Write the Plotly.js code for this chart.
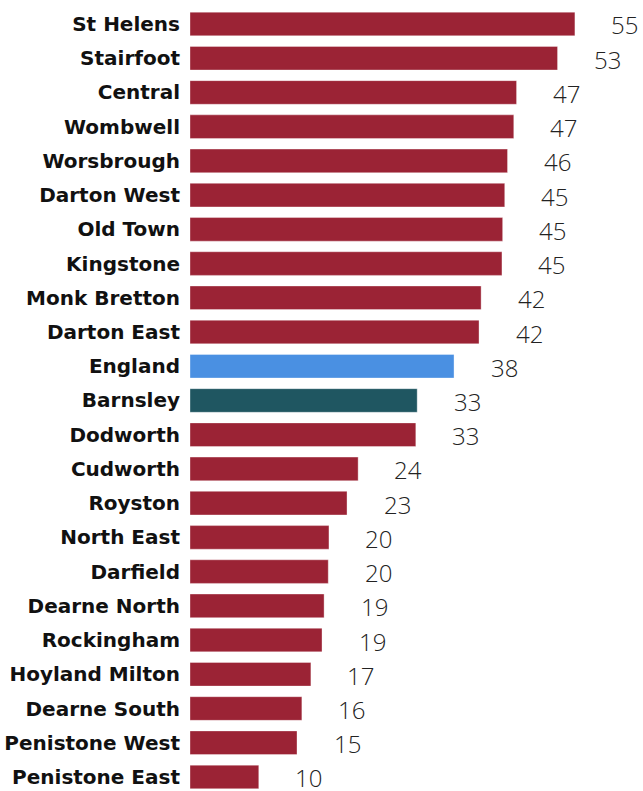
<!DOCTYPE html>
<html>
<head>
<meta charset="utf-8">
<script src="https://cdn.plot.ly/plotly-3.0.1.min.js"></script>
<style>html,body{margin:0;padding:0;background:#fff;}#chart{width:643px;height:791px;}</style>
</head>
<body>
<div id="chart"></div>
<script>
const wards = ["St Helens","Stairfoot","Central","Wombwell","Worsbrough","Darton West","Old Town","Kingstone","Monk Bretton","Darton East","England","Barnsley","Dodworth","Cudworth","Royston","North East","Darfield","Dearne North","Rockingham","Hoyland Milton","Dearne South","Penistone West","Penistone East"];
const values = [55.4,52.9,47.0,46.6,45.7,45.3,45.0,44.9,41.9,41.6,38.0,32.7,32.5,24.2,22.6,20.0,19.9,19.3,19.0,17.4,16.1,15.4,9.9];
const valueLabels = ["55","53","47","47","46","45","45","45","42","42","38","33","33","24","23","20","20","19","19","17","16","15","10"];

const RED = "#9B2335", BLUE = "#4A90E2", TEAL = "#1F5661";
const colors = wards.map(w => w === "England" ? BLUE : (w === "Barnsley" ? TEAL : RED));

const trace = {
  type: "bar",
  orientation: "h",
  y: wards,
  x: values,
  marker: {color: colors, line: {color: "rgba(255,255,255,0.35)", width: 1}},
  hoverinfo: "none"
};

const annotations = wards.map((w, i) => ({
  x: values[i], y: w, xref: "x", yref: "y",
  text: valueLabels[i], showarrow: false,
  xanchor: "center", yanchor: "middle",
  xshift: 50, yshift: -1,
  font: {family: "Open Sans, Lato, sans-serif", size: 24, color: "#222", weight: 300}
}));

const layout = {
  width: 643, height: 791,
  margin: {l: 190, r: 0, t: 0, b: 0, pad: 0},
  paper_bgcolor: "#fff", plot_bgcolor: "#fff",
  showlegend: false,
  bargap: 0.31,
  xaxis: {range: [0, 65.2], visible: false, fixedrange: true},
  yaxis: {
    type: "category",
    categoryorder: "array", categoryarray: wards,
    range: [22.41, -0.701],
    showgrid: false, zeroline: false, showline: false,
    ticks: "", ticklabelstandoff: 9,
    tickfont: {family: "DejaVu Sans, sans-serif", size: 20, color: "#111", weight: 700}
  },
  annotations: annotations
};

Plotly.newPlot("chart", [trace], layout, {displayModeBar: false, staticPlot: true});
</script>
</body>
</html>
